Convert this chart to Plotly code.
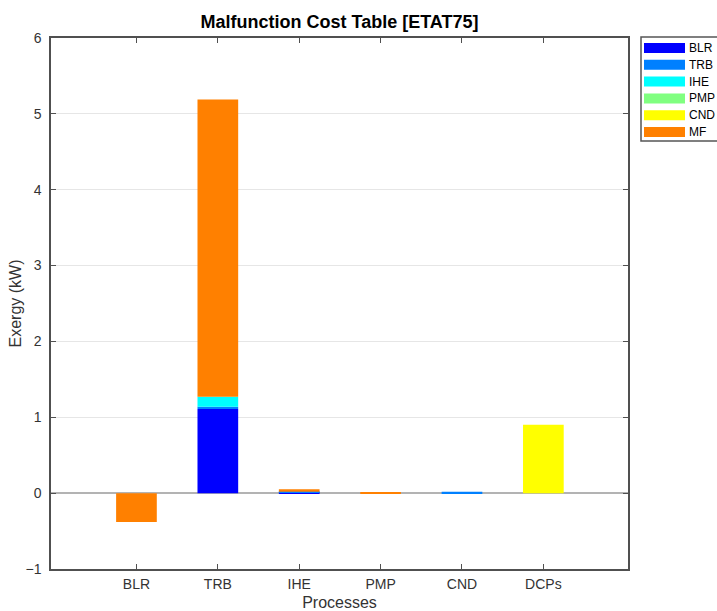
import plotly.graph_objects as go

categories = ["BLR", "TRB", "IHE", "PMP", "CND", "DCPs"]
series_names = ["BLR", "TRB", "IHE", "PMP", "CND", "MF"]
blr = [0, 1.11, 0.01, 0, 0, 0]
trb = [0, 0.03, 0.01, 0, 0.02, 0]
ihe = [0, 0.13, 0, 0, 0, 0]
pmp = [0, 0, 0, 0, 0, 0]
cnd = [0, 0, 0, 0, 0, 0.9]
mf = [-0.38, 3.92, 0.03, 0.005, 0, 0]
series_values = [blr, trb, ihe, pmp, cnd, mf]
colors = ["#0000ff", "#0080ff", "#00ffff", "#80ff80", "#ffff00", "#ff8000"]
y_ticks = [-1, 0, 1, 2, 3, 4, 5, 6]

FONT = "Liberation Sans, Arial, sans-serif"
L, R, T, B = 51, 628, 38, 569
W, H = R - L, B - T

def px_x(x):
    return (x - L) / W

def px_y(y):
    return 1 - (y - T) / H

fig = go.Figure()
for name, vals, col in zip(series_names, series_values, colors):
    fig.add_trace(go.Bar(x=categories, y=vals, name=name, marker_color=col,
                         marker_line_width=0, width=0.5, showlegend=False))

# Manual legend (MATLAB-style wide swatches)
step = 16.8
fig.add_shape(type="rect", xref="paper", yref="paper",
              x0=px_x(641), x1=px_x(730), y0=px_y(37), y1=px_y(141),
              line=dict(color="#555555", width=1.5), fillcolor="white")
for i, (name, col) in enumerate(zip(series_names, colors)):
    cy = 48 + i * step
    fig.add_shape(type="rect", xref="paper", yref="paper",
                  x0=px_x(644), x1=px_x(685), y0=px_y(cy - 5), y1=px_y(cy + 5),
                  line=dict(width=0), fillcolor=col)
    fig.add_annotation(xref="paper", yref="paper", x=px_x(687), y=px_y(cy),
                       text=name, showarrow=False, xanchor="left", yanchor="middle",
                       font=dict(family=FONT, size=12, color="#000000"))

fig.update_layout(
    width=717, height=611,
    margin=dict(l=L, r=717 - R, t=T, b=611 - B, autoexpand=False),
    barmode="relative",
    plot_bgcolor="white", paper_bgcolor="white",
    font=dict(family=FONT, size=14, color="#333333"),
    title=dict(text="<b>Malfunction Cost Table [ETAT75]</b>", x=(L + R) / 2 / 717,
               xanchor="center", y=1 - 22 / 611, yanchor="middle",
               font=dict(family=FONT, size=18, color="#000000")),
    xaxis=dict(range=[-1.05, 6.04], showline=True, linecolor="#505050", linewidth=1.5,
               mirror="ticks", ticks="inside", ticklen=5, tickcolor="#505050",
               automargin=False, showgrid=False, ticklabelstandoff=1,
               title=dict(text="Processes", standoff=8,
                          font=dict(size=16, color="#333333"))),
    yaxis=dict(range=[-1, 6], tickvals=y_ticks, showline=True, linecolor="#505050",
               linewidth=1.5, mirror="ticks", ticks="inside", ticklen=5,
               tickcolor="#505050", showgrid=True, gridcolor="#e6e6e6",
               automargin=False, ticklabelstandoff=5,
               zeroline=True, zerolinecolor="#b3b3b3", zerolinewidth=2,
               title=dict(text="Exergy (kW)", standoff=0,
                          font=dict(size=16, color="#333333"))),
)

fig.write_html("out.html")
